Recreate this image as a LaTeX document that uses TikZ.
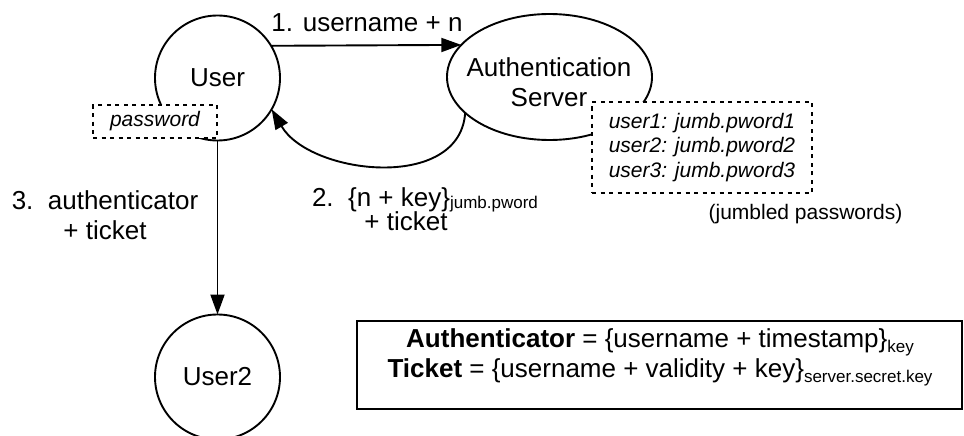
\documentclass[tikz,border=0pt]{standalone}
\usepackage{fontspec}
\setmainfont{Liberation Sans}
\usetikzlibrary{shapes.geometric,arrows.meta}
\newcommand\bigf{\fontsize{26}{30}\selectfont}
\newcommand\smallf{\fontsize{21}{24.5}\selectfont}
\newcommand\subf[2][-5pt]{\raisebox{#1}{\fontsize{17}{20}\selectfont #2}}
\begin{document}
\begin{tikzpicture}[x=1pt,y=-1pt,
  every node/.style={inner sep=0pt, outer sep=0pt},
  ln/.style={line width=1.9pt},
  arr/.style={ln, -{Triangle[length=20pt,width=14pt]}},
  circ/.style={circle, draw, ln, minimum size=125pt, font=\bigf},
  oval/.style={ellipse, draw, ln, minimum width=205pt, minimum height=126pt},
  dotbox/.style={draw, fill=white, line width=1.9pt, dash pattern=on 4pt off 4.5pt},
  plainbox/.style={draw, fill=white, ln},
  lbl/.style={font=\bigf, align=center},
  slbl/.style={font=\smallf, align=left}]
\useasboundingbox (0,0) rectangle (964,436);

% nodes
\node[circ] (User) at (217.5,78) {User};
\node[oval] (Server) at (549.5,77) {};
\node[lbl] (ServerTxt) at (549,82.5) {Authentication\\Server};
\node[circ] (User2) at (217.5,377) {User2};

% connectors
\draw[arr] (User.31.6) -- (Server.160.1);
\draw[arr] (Server.203) .. controls (460,192) and (310,175) .. (User.-30.4);
\draw[arr] (User.south) -- (User2.north);

% dotted boxes
\node[dotbox, minimum width=124pt, minimum height=33pt, font=\smallf\itshape] (PwBox) at (155,121.5) {password};
\node[dotbox, minimum width=220pt, minimum height=91pt, font=\smallf\itshape, align=left] (DbBox) at (702,147.5)
  {user1: jumb.pword1\\user2: jumb.pword2\\user3: jumb.pword3};
\node[slbl, anchor=base] (JumbTxt) at (805.5,219) {(jumbled passwords)};

% labels
\node[lbl, anchor=base] (L1) at (367,32) {1. username + n};
\node[lbl, anchor=base west] (L2a) at (312,206) {2.\ \ \{n + key\}\subf[-2.5pt]{jumb.pword}};
\node[lbl, anchor=base] (L2b) at (406,230) {+ ticket};
\node[lbl] (L3) at (105,215.5) {3.\ \ authenticator\\+ ticket};

% definitions box
\node[plainbox, minimum width=605pt, minimum height=88pt] (DefBox) at (659.5,365) {};
\node[lbl] (DefTxt) at (660,357.5)
  {\textbf{Authenticator} = \{username + timestamp\}\subf{key}\\
   \textbf{Ticket} = \{username + validity + key\}\subf{server.secret.key}};
\end{tikzpicture}
\end{document}
